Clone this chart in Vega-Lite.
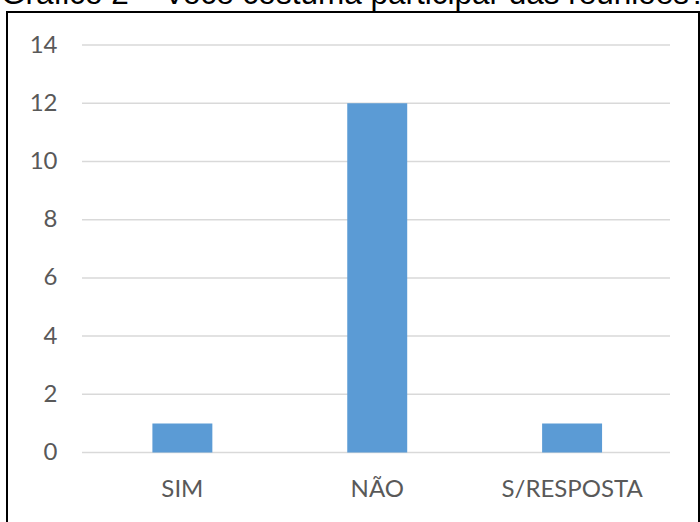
{
  "$schema": "https://vega.github.io/schema/vega-lite/v6.json",
  "autosize": {"type": "none"},
  "width": 692,
  "height": 520,
  "padding": {"left": 7, "top": 12, "right": 1, "bottom": 0},
  "background": "white",
  "config": {
    "view": {"stroke": "#000000", "strokeWidth": 2}
  },
  "datasets": {
    "bars": [
      {"resposta": "SIM", "n": 1},
      {"resposta": "NÃO", "n": 12},
      {"resposta": "S/RESPOSTA", "n": 1}
    ],
    "grid": [
      {"v": 0}, {"v": 2}, {"v": 4}, {"v": 6}, {"v": 8}, {"v": 10}, {"v": 12}, {"v": 14}
    ],
    "titulo": [
      {"texto": "Gráfico 2 – Você costuma participar das reuniões?", "px": -0.1378, "py": 15.412}
    ]
  },
  "layer": [
    {
      "data": {"name": "grid"},
      "mark": {"type": "rule", "color": "#d9d9d9", "strokeWidth": 1.5},
      "encoding": {
        "y": {
          "field": "v",
          "type": "quantitative",
          "scale": {"domain": [-2.732, 15.137], "nice": false, "zero": false},
          "axis": {
            "values": [0, 2, 4, 6, 8, 10, 12, 14],
            "title": null,
            "grid": false,
            "domain": false,
            "ticks": false,
            "offset": -56,
            "labelPadding": 6,
            "labelFont": "Lato",
            "labelFontSize": 24,
            "labelColor": "#595959"
          }
        },
        "x": {
          "datum": 0,
          "type": "quantitative",
          "scale": {"domain": [-0.12755, 1.04932], "nice": false, "zero": false},
          "axis": null
        },
        "x2": {"datum": 1}
      }
    },
    {
      "data": {"name": "titulo"},
      "mark": {"type": "text", "align": "left", "baseline": "alphabetic", "font": "Liberation Sans", "fontSize": 31.5, "color": "#000000"},
      "encoding": {
        "x": {
          "field": "px",
          "type": "quantitative",
          "scale": {"domain": [-0.12755, 1.04932], "nice": false, "zero": false},
          "axis": null
        },
        "y": {"field": "py", "type": "quantitative"},
        "text": {"field": "texto"}
      }
    },
    {
      "data": {"name": "bars"},
      "mark": {"type": "bar", "color": "#5b9bd5"},
      "encoding": {
        "x": {
          "field": "resposta",
          "type": "nominal",
          "sort": null,
          "scale": {"paddingInner": 0.6923, "paddingOuter": 0.6218, "align": 0.6},
          "axis": {
            "title": null,
            "orient": "bottom",
            "offset": -79.5,
            "domain": false,
            "ticks": false,
            "labelAngle": 0,
            "labelBaseline": "middle",
            "labelPadding": 37,
            "labelFont": "Lato",
            "labelFontSize": 24,
            "labelColor": "#595959"
          }
        },
        "y": {"field": "n", "type": "quantitative"},
        "y2": {"datum": 0}
      }
    }
  ],
  "resolve": {"scale": {"x": "independent"}}
}
